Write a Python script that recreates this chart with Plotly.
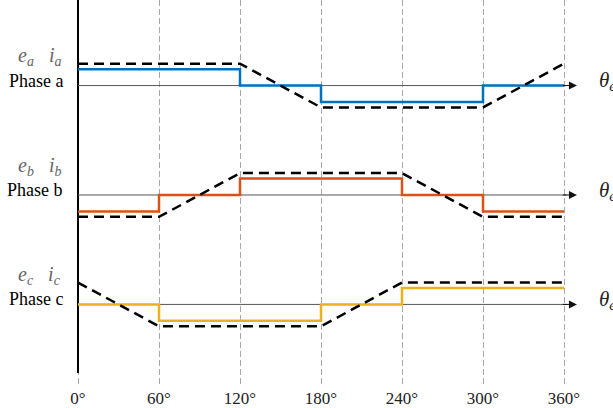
import plotly.graph_objects as go

# ---- data ----
angles = [0, 60, 120, 180, 240, 300, 360]
tick_text = ["0°", "60°", "120°", "180°", "240°", "300°", "360°"]
phases = ["a", "b", "c"]
# back-EMF corner values (normalized, linear between corners)
e_a = [1, 1, 1, -1, -1, -1, 1]
e_b = [-1, -1, 1, 1, 1, -1, -1]
e_c = [1, -1, -1, -1, 1, 1, 1]
# phase current per 60° sector (normalized)
i_a = [1, 1, 0, -1, -1, 0]
i_b = [-1, 0, 1, 1, 0, -1]
i_c = [0, -1, -1, 0, 1, 1]

E_AMP = 0.2
I_AMP = 0.15
offsets = [2, 1, 0]
colors = ["#0072BD", "#D95319", "#EDB120"]
e_list = [e_a, e_b, e_c]
i_list = [i_a, i_b, i_c]

fig = go.Figure()

# left vertical axis line
fig.add_trace(go.Scatter(x=[0, 0], y=[-0.627, 2.79], mode="lines",
                         line=dict(color="black", width=2), hoverinfo="skip", showlegend=False))

for k in range(3):
    off = offsets[k]
    # baseline
    fig.add_trace(go.Scatter(x=[0, 362], y=[off, off], mode="lines",
                             line=dict(color="#555", width=1), hoverinfo="skip", showlegend=False))
    # current
    iy = [off + I_AMP * v for v in i_list[k]] + [off + I_AMP * i_list[k][-1]]
    fig.add_trace(go.Scatter(x=angles, y=iy, mode="lines", line_shape="hv",
                             line=dict(color=colors[k], width=2.5), hoverinfo="skip", showlegend=False))
    # back-EMF
    ey = [off + E_AMP * v for v in e_list[k]]
    fig.add_trace(go.Scatter(x=angles, y=ey, mode="lines",
                             line=dict(color="black", width=2.5, dash="10px,6px"),
                             hoverinfo="skip", showlegend=False))
    # arrow
    fig.add_annotation(x=369.6, y=off, ax=358, ay=off, axref="x", ayref="y",
                       xref="x", yref="y", text="", showarrow=True,
                       arrowhead=2, arrowsize=1.6, arrowwidth=1, arrowcolor="#111")
    # theta label
    fig.add_annotation(x=384.5, y=off + 0.04, xref="x", yref="y", xanchor="left", yanchor="middle",
                       text="<i>θ</i><sub><i>e</i></sub>", showarrow=False,
                       font=dict(family="Liberation Serif", size=21, color="#222"))
    # labels
    p = phases[k]
    fig.add_annotation(x=-11, y=off + 29 / 110, xref="x", yref="y", xanchor="right", yanchor="middle",
                       text=f"<i>e</i><sub><i>{p}</i></sub>   <i>i</i><sub><i>{p}</i></sub>", showarrow=False,
                       font=dict(family="Liberation Serif", size=20, color="#666"))
    fig.add_annotation(x=-10, y=off + 5 / 110, xref="x", yref="y", xanchor="right", yanchor="middle",
                       text=f"Phase {p}", showarrow=False,
                       font=dict(family="Liberation Serif", size=18, color="black"))

fig.update_layout(
    width=613, height=408,
    margin=dict(l=0, r=0, t=0, b=20),
    plot_bgcolor="white", paper_bgcolor="white",
    xaxis=dict(range=[-57.78, 396.3], tickvals=angles, ticktext=tick_text,
               showgrid=True, gridcolor="#a8a8a8", gridwidth=1, griddash="6px,3px",
               zeroline=False, showline=False, ticks="", ticklen=0,
               tickfont=dict(family="Liberation Serif", size=17, color="#222")),
    yaxis=dict(range=[-0.7455, 2.7818], showgrid=False, zeroline=False,
               showticklabels=False, showline=False),
)

fig.write_html("out.html")
